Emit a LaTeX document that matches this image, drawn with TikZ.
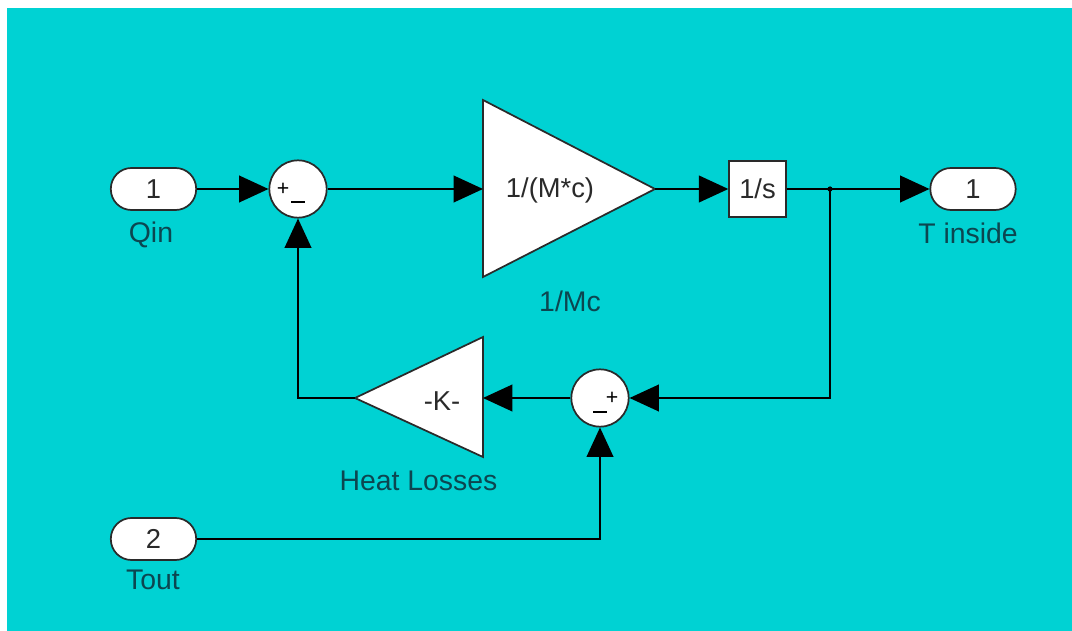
\documentclass[tikz,border=0pt]{standalone}
\usepackage{fontspec}
\setmainfont{Liberation Sans}
\usetikzlibrary{arrows.meta,calc}
\definecolor{bgteal}{HTML}{00D2D3}
\definecolor{labelcol}{HTML}{0C4650}
\definecolor{inkcol}{HTML}{2A2A2A}
\tikzset{
  x=0.75pt,y=-0.75pt,
  blockline/.style={draw=inkcol,line width=1.3pt,fill=white},
  port/.style={blockline,rounded corners=15.5pt,minimum width=64pt,minimum height=31.5pt,inner sep=0pt,text=inkcol,font=\fontsize{20.5}{24}\selectfont},
  sumcircle/.style={blockline,circle,minimum size=43pt,inner sep=0pt},
  intbox/.style={blockline,minimum width=42.5pt,minimum height=42.5pt,inner sep=0pt,text=inkcol,font=\fontsize{20.5}{24}\selectfont},
  gaintext/.style={inner sep=0pt,text=inkcol,font=\fontsize{20.5}{24}\selectfont},
  caption/.style={inner sep=0pt,text=labelcol,font=\fontsize{21.3}{25}\selectfont},
  signtext/.style={inner sep=0pt,text=black,font=\fontsize{16}{18}\selectfont},
  wire/.style={draw=black,line width=1.3pt},
  flow/.style={wire,-{Triangle[length=22pt,width=20pt]}},
}
\begin{document}
\begin{tikzpicture}
\useasboundingbox (0,0) rectangle (1072,631);
\fill[bgteal] (7,8) rectangle (1072,631);

% gain triangles
\coordinate (gaina) at (483,189);
\coordinate (gainatip) at (655,189);
\coordinate (gainb) at (483,398);
\coordinate (gainbtip) at (355,398);
\draw[blockline,line join=miter] (483,100) -- (655,189) -- (483,277) -- cycle;
\draw[blockline,line join=miter] (483,337) -- (355,398) -- (483,457) -- cycle;

% blocks
\node[port] (inq) at (153.5,189) {1};
\node[port] (intout) at (153.5,539) {2};
\node[port] (outt) at (973,189) {1};
\node[sumcircle] (suma) at (298,189) {};
\node[sumcircle] (sumb) at (600,398) {};
\node[intbox] (integ) at (757.5,189) {1/s};
\coordinate (tap) at (830,189);
\coordinate (cornera) at (830,398);
\coordinate (cornerb) at (298,398);
\coordinate (cornerc) at (600,539);

% block texts
\node[gaintext] (gaintexta) at (550,190) {1/(M*c)};
\node[gaintext] (gaintextb) at (442,401) {-K-};
\node[signtext] (plusa) at (283,189) {+};
\node[signtext] (minusa) at (298,202) {\rule{10pt}{1.1pt}};
\node[signtext] (plusb) at (612,398) {+};
\node[signtext] (minusb) at (600,412) {\rule{10pt}{1.1pt}};

% captions
\node[caption] (capq) at (151,235) {Qin};
\node[caption] (capout) at (968,233) {T inside};
\node[caption] (capmc) at (570,301) {1/Mc};
\node[caption] (capheat) at (418.5,481) {Heat Losses};
\node[caption] (captout) at (153,580) {Tout};

% connectors
\draw[flow] (inq) -- (suma);
\draw[flow] (suma) -- (gaina);
\draw[flow] (gainatip) -- (integ);
\draw[flow] (integ) -- (outt);
\fill[black] (tap) circle (2.6);
\draw[flow] (tap) -- (cornera) -- (sumb);
\draw[flow] (sumb) -- (gainb);
\draw[flow] (gainbtip) -- (cornerb) -- (suma);
\draw[flow] (intout) -- (cornerc) -- (sumb);
\end{tikzpicture}
\end{document}
